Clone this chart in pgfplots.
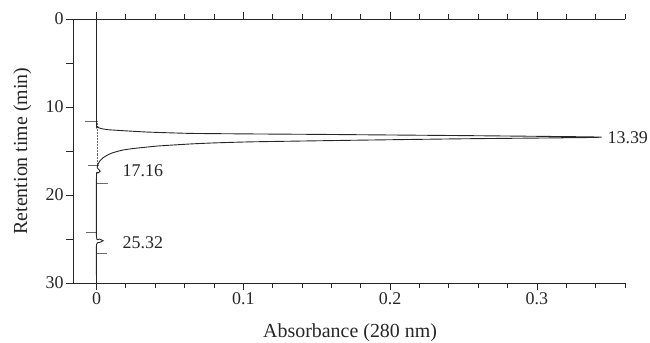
\documentclass[border=0pt]{standalone}
\usepackage{fontspec}
\setmainfont{Liberation Serif}
\usepackage{pgfplots}
\pgfplotsset{compat=1.18}
\definecolor{ink}{HTML}{262626}
\definecolor{mkgray}{HTML}{6A6A6A}
\begin{document}
\begin{tikzpicture}
\begin{axis}[
  scale only axis, width=552bp, height=264bp,
  xmin=-0.016, xmax=0.36, ymin=0, ymax=30, y dir=reverse,
  axis x line*=box, axis y line*=left,
  clip=false,
  xtick={0,0.1,0.2,0.3}, xticklabels={0,0.1,0.2,0.3},
  minor xtick={0.02,0.04,0.06,0.08,0.12,0.14,0.16,0.18,0.22,0.24,0.26,0.28,0.32,0.34,0.36},
  ytick={0,5,10,15,20,25,30}, yticklabels={0,,10,,20,,30},
  tick align=outside,
  major tick length=7bp, minor tick length=5bp,
  tick style={ink, line width=0.8bp},
  axis line style={ink, line width=0.9bp},
  ticklabel style={font=\fontsize{18}{18}\selectfont, text=ink},
  /pgf/number format/assume math mode=true,
  xticklabel style={yshift=1bp},
  yticklabel style={xshift=1bp},
  xlabel={Absorbance (280 nm)},
  ylabel={Retention time (min)},
  label style={font=\fontsize{20}{20}\selectfont, text=ink},
  xlabel style={at={(axis description cs:0.502,-0.19)}, anchor=center},
  ylabel style={at={(axis description cs:-0.092,0.5)}, anchor=center, rotate=0},
]
% baseline dotted
\addplot[mkgray, densely dotted, line width=0.5bp] coordinates {(0.0006,11.6) (0.0006,16.6)};
% integration markers
\addplot[mkgray, line width=0.7bp] coordinates {(-0.008,11.6) (0,11.6)};
\addplot[mkgray, line width=0.7bp] coordinates {(-0.006,16.6) (0.0015,16.6)};
\addplot[mkgray, line width=0.7bp] coordinates {(0,18.7) (0.008,18.7)};
\addplot[mkgray, line width=0.7bp] coordinates {(-0.007,24.3) (0,24.3)};
\addplot[mkgray, line width=0.7bp] coordinates {(0,26.6) (0.0075,26.6)};
% chromatogram trace
\addplot[ink, line width=0.9bp, smooth, tension=0.25] coordinates {
 (0,0) (0,11.9) (0.0005,12.2) (0.0015,12.35) (0.003,12.45) (0.008,12.58)
 (0.018,12.69) (0.035,12.85) (0.064,13.0) (0.105,13.06) (0.15,13.11) (0.2,13.18)
 (0.25,13.25) (0.3,13.33) (0.335,13.39) (0.344,13.43)
 (0.335,13.47) (0.3,13.53) (0.25,13.61) (0.2,13.72) (0.15,13.84) (0.105,13.96)
 (0.08,14.08) (0.064,14.2) (0.042,14.43)
 (0.026,14.7) (0.018,14.89) (0.011,15.2) (0.007,15.5) (0.004,15.83) (0.002,16.2)
 (0.0008,16.6) (0.0005,16.9) (0.0015,17.1) (0.0025,17.3) (0.001,17.5) (0,17.7)
 (0,24.8) (0.002,25.0) (0.0045,25.2) (0.002,25.4) (0,25.6) (0,30)
};
\node[anchor=west, text=ink, font=\fontsize{18}{18}\selectfont, inner sep=0pt] at (axis cs:0.348,13.45) {13.39};
\node[anchor=west, text=ink, font=\fontsize{18}{18}\selectfont, inner sep=0pt] at (axis cs:0.0177,17.27) {17.16};
\node[anchor=west, text=ink, font=\fontsize{18}{18}\selectfont, inner sep=0pt] at (axis cs:0.0177,25.45) {25.32};
\coordinate (BL) at (axis description cs:0,0);
\coordinate (TR) at (axis description cs:1,1);
\end{axis}
\pgfresetboundingbox
\path ([shift={(-73bp,-60bp)}]BL) rectangle ([shift={(25bp,19bp)}]TR);
\end{tikzpicture}
\end{document}
